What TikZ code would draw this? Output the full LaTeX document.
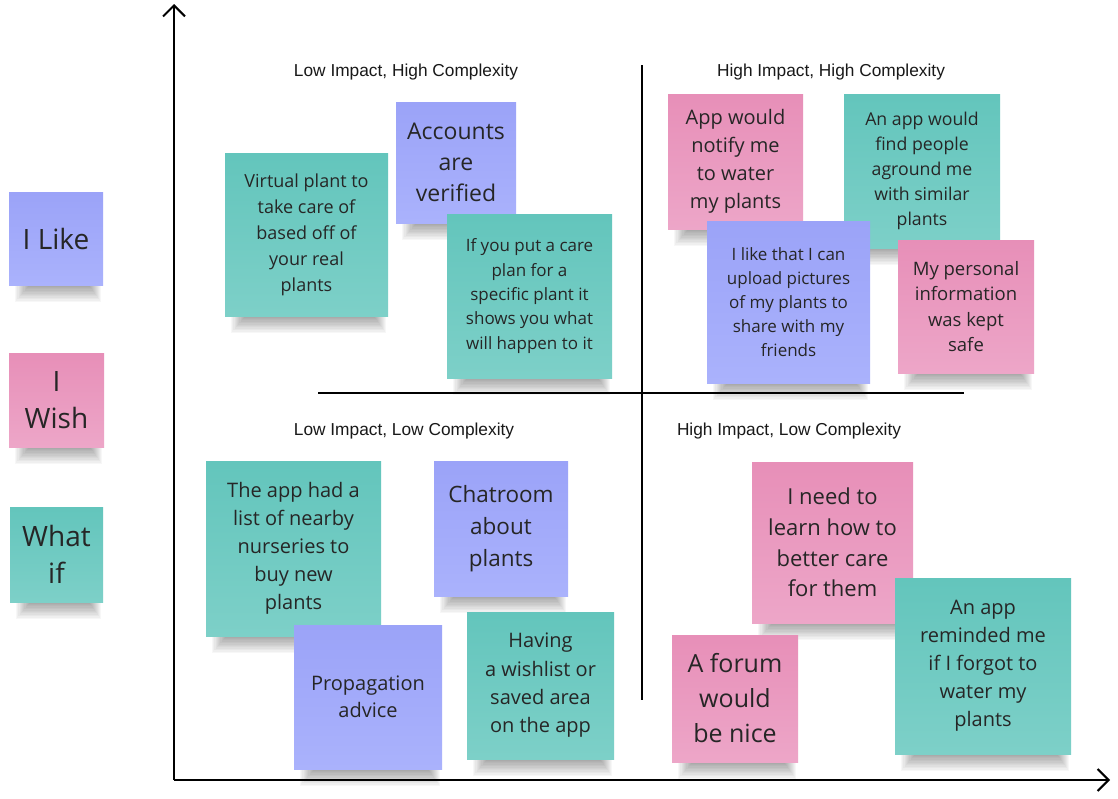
\documentclass[tikz,border=0pt]{standalone}
\usepackage{fontspec}
\setmainfont{Open Sans}
\newfontfamily\headfont{Liberation Sans}
\usetikzlibrary{arrows.meta}
\definecolor{liketop}{HTML}{9BA3F8}
\definecolor{likebot}{HTML}{AAB2FC}
\definecolor{wishtop}{HTML}{E78FB8}
\definecolor{wishbot}{HTML}{EDA6C8}
\definecolor{whattop}{HTML}{63C5BC}
\definecolor{whatbot}{HTML}{7DD0C8}
\definecolor{notetext}{HTML}{262626}
\tikzset{
  likenote/.style={rectangle, inner sep=0pt, top color=liketop, bottom color=likebot, draw=none, align=center, text=notetext},
  wishnote/.style={rectangle, inner sep=0pt, top color=wishtop, bottom color=wishbot, draw=none, align=center, text=notetext},
  whatnote/.style={rectangle, inner sep=0pt, top color=whattop, bottom color=whatbot, draw=none, align=center, text=notetext},
  axisline/.style={line width=2pt, black, -{Straight Barb[length=11pt,width=22pt,line width=2pt]}},
  quadline/.style={line width=1.2pt, black},
  heading/.style={font=\headfont\fontsize{17.3}{20}\selectfont, text=black!90, inner sep=0pt},
  shadowlayer/.style={fill=black, opacity=0.032, draw=none}
}
\newcommand\sticky[9]{%
  \foreach \i in {0,...,11}{%
    \fill[shadowlayer] ({#3+6+1.2*\i},{#6-6}) rectangle ({#5-2-1.0*\i},{#6+17-1.4*\i});
  }
  \node[#2, minimum width={#5-#3}, minimum height={#6-#4}, font=\fontsize{#7}{#8}\selectfont] (#1) at ({(#3+#5)/2},{(#4+#6)/2}) {#9};
}
\begin{document}
\begin{tikzpicture}[x=1pt, y=-1pt]
\useasboundingbox[fill=white] (0,0) rectangle (1118,798);

% axes
\coordinate (origin) at (174,780);
\coordinate (ytop) at (174,4);
\coordinate (xend) at (1110,780);
\draw[axisline] (origin) -- (ytop);
\draw[axisline] (origin) -- (xend);

% quadrant lines
\coordinate (vtop) at (642,65);
\coordinate (vbot) at (642,700);
\coordinate (hleft) at (318,393);
\coordinate (hright) at (964,393);
\draw[quadline] (vtop) -- (vbot);
\draw[quadline] (hleft) -- (hright);

% headings
\node[heading] (h1) at (406,72) {Low Impact, High Complexity};
\node[heading] (h2) at (831,72) {High Impact, High Complexity};
\node[heading] (h3) at (404,431) {Low Impact, Low Complexity};
\node[heading] (h4) at (789,431) {High Impact, Low Complexity};

% legend
\sticky{leglike}{likenote}{9}{192}{103}{285}{28}{37}{I Like}
\sticky{legwish}{wishnote}{9}{353}{104}{447}{28}{37}{I\\Wish}
\sticky{legwhat}{whatnote}{10}{507}{103}{602}{28}{37}{What\\if}

% low impact, high complexity
\sticky{n1}{whatnote}{225}{153}{388}{316}{18}{26}{Virtual plant to\\take care of\\based off of\\your real\\plants}
\sticky{n2}{likenote}{396}{102}{516}{223}{23}{31}{Accounts\\are\\verified}
\sticky{n3}{whatnote}{447}{214}{612}{378}{17}{24.4}{If you put a care\\plan for a\\specific plant it\\shows you what\\will happen to it}

% high impact, high complexity
\sticky{n4}{wishnote}{668}{94}{803}{229}{20}{28}{App would\\notify me\\to water\\my plants}
\sticky{n5}{whatnote}{844}{94}{1000}{248}{17.7}{25}{An app would\\find people\\aground me\\with similar\\plants}
\sticky{n6}{likenote}{707}{221}{870}{383}{17}{24}{I like that I can\\upload pictures\\of my plants to\\share with my\\friends}
\sticky{n7}{wishnote}{898}{240}{1034}{373}{18.5}{25.6}{My personal\\information\\was kept\\safe}

% low impact, low complexity
\sticky{n8}{whatnote}{206}{461}{381}{636}{20}{28}{The app had a\\list of nearby\\nurseries to\\buy new\\plants}
\sticky{n9}{likenote}{434}{461}{568}{596}{22.5}{31.7}{Chatroom\\about\\plants}
\sticky{n10}{likenote}{294}{625}{442}{769}{20}{27}{Propagation\\advice}
\sticky{n11}{whatnote}{467}{612}{614}{759}{20}{28.3}{Having\\a wishlist or\\saved area\\on the app}

% high impact, low complexity
\sticky{n12}{wishnote}{752}{462}{913}{623}{22}{30.7}{I need to\\learn how to\\better care\\for them}
\sticky{n13}{whatnote}{895}{578}{1071}{754}{20}{28}{An app\\reminded me\\if I forgot to\\water my\\plants}
\sticky{n14}{wishnote}{672}{635}{798}{762}{25}{35}{A forum\\would\\be nice}
\end{tikzpicture}
\end{document}
